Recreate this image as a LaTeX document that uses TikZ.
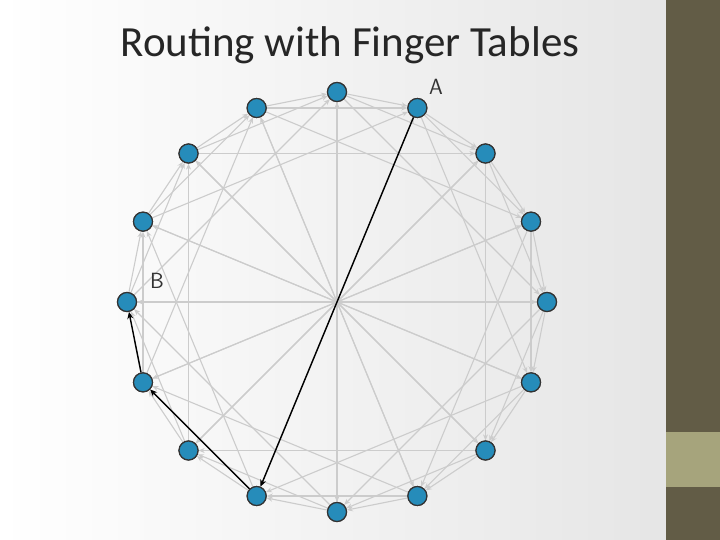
\documentclass[tikz,border=0pt]{standalone}
\usepackage{fontspec}
\setmainfont{Carlito}
\usetikzlibrary{arrows.meta}
\definecolor{peer}{RGB}{38,140,186}
\definecolor{olive}{RGB}{98,92,70}
\definecolor{sand}{RGB}{166,164,124}
\tikzset{
  peer/.style={circle, draw=black!80, line width=1.2pt, fill=peer, minimum size=19pt, inner sep=0pt},
  finger/.style={draw=black!20, line width=1.1pt, -{Stealth[length=6pt,width=5pt]}},
  hop/.style={draw=black, line width=1.4pt, -{Stealth[length=7pt,width=6pt]}}
}
\begin{document}
\begin{tikzpicture}[x=1pt,y=-1pt]
\useasboundingbox (0,0) rectangle (720,540);
\shade[left color=white, right color=black!10] (0,0) rectangle (666,540);
\fill[olive] (666,0) rectangle (720,540);
\fill[sand] (666,432) rectangle (720,487);

\node[font=\fontsize{43}{48}\selectfont, text=black!85] (title) at (350,45) {Routing with Finger Tables};

% peers on the ring
\foreach \i in {0,...,15}
  \coordinate (c\i) at ({337+210*cos(90-22.5*\i)},{302-210*sin(90-22.5*\i)});
\foreach \i in {0,...,15}
  \node[peer] (n\i) at (c\i) {};

% finger table entries
\foreach \i in {0,...,15}
  \foreach \k in {1,2,4,8}{
    \pgfmathtruncatemacro{\j}{mod(\i+\k,16)}
    \draw[finger] (n\i) -- (n\j);
  }

% lookup route
\draw[hop] (n1) -- (n9);
\draw[hop] (n9) -- (n11);
\draw[hop] (n11) -- (n12);

\foreach \i in {0,...,15}
  \node[peer] at (c\i) {};

\node[font=\sffamily\fontsize{22}{22}\selectfont, text=black!80] (lblA) at (436,87) {A};
\node[font=\sffamily\fontsize{22}{22}\selectfont, text=black!80] (lblB) at (157,281) {B};
\end{tikzpicture}
\end{document}
